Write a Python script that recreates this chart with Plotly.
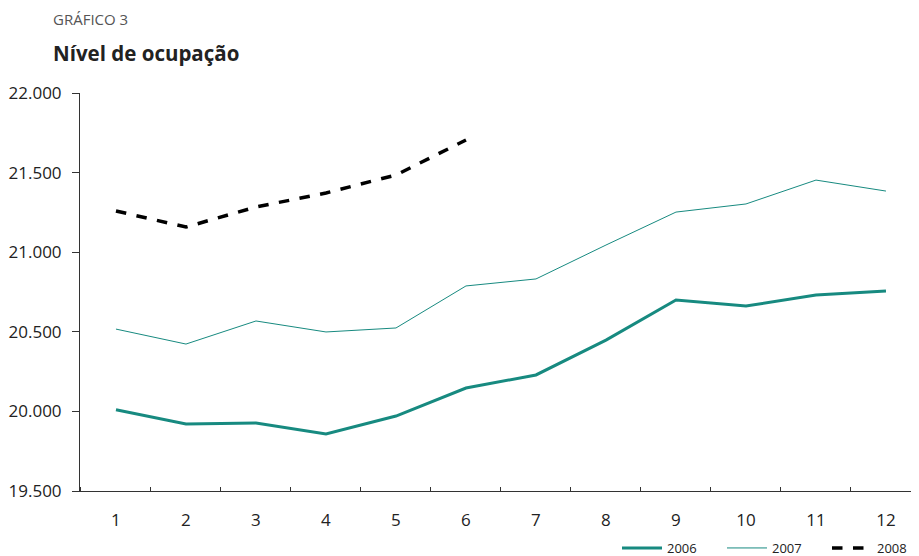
import plotly.graph_objects as go

months = [1, 2, 3, 4, 5, 6, 7, 8, 9, 10, 11, 12]
y2006 = [20010, 19921, 19927, 19858, 19971, 20147, 20229, 20448, 20700, 20662, 20731, 20756]
y2007 = [20517, 20423, 20568, 20499, 20524, 20788, 20832, 21045, 21252, 21303, 21453, 21384]
months2008 = [1, 2, 3, 4, 5, 6]
y2008 = [21259, 21158, 21284, 21372, 21485, 21705]
yticks = [19500, 20000, 20500, 21000, 21500, 22000]

teal = "#178a80"
font = "Open Sans"
# page body has an 8px default margin
W, H = 911, 556
L, R, T, B = 72, 3, 85, 73
PW, PH = W - L - R, H - T - B

fig = go.Figure()
fig.add_trace(go.Scatter(x=months, y=y2006, mode="lines", name="2006",
                         line=dict(color=teal, width=3)))
fig.add_trace(go.Scatter(x=months, y=y2007, mode="lines", name="2007",
                         line=dict(color=teal, width=1)))
fig.add_trace(go.Scatter(x=months2008, y=y2008, mode="lines", name="2008",
                         line=dict(color="black", width=3.5, dash="dash")))

fig.update_layout(
    width=W, height=H,
    margin=dict(l=L, r=R, t=T, b=B, autoexpand=False),
    paper_bgcolor="white", plot_bgcolor="white",
    separators=",.",
    font=dict(family=font, color="#222222"),
    showlegend=True,
    legend=dict(orientation="h", x=1 + 16 / PW, xanchor="right", y=-57 / PH, yanchor="middle",
                font=dict(size=13, color="#222222"), traceorder="normal",
                itemwidth=40, entrywidth=50, bgcolor="rgba(0,0,0,0)"),
    xaxis=dict(range=[0.486, 12.429], tickvals=months, ticktext=[str(m) for m in months],
               showgrid=False, zeroline=False, showline=True, linecolor="#333333",
               linewidth=1, ticks="", ticklabelstandoff=14,
               minor=dict(tick0=0.5, dtick=1, ticks="inside", ticklen=4,
                          tickcolor="#333333", showgrid=False),
               tickfont=dict(size=17, family=font, color="#222222")),
    yaxis=dict(range=[19500, 22000], tickvals=yticks, tickformat=",.0f",
               showgrid=False, zeroline=False, showline=True, linecolor="#333333",
               linewidth=1, ticks="outside", ticklen=7, tickcolor="#333333",
               ticklabelstandoff=7,
               tickfont=dict(size=17, family=font, color="#222222")),
)
fig.add_annotation(text="GRÁFICO 3", xref="paper", yref="paper",
                   x=-29 / PW, y=1 + (85 - 11) / PH, xanchor="left", yanchor="middle",
                   showarrow=False, font=dict(family=font, size=15, color="#555555"))
fig.add_annotation(text="<b>Nível de ocupação</b>", xref="paper", yref="paper",
                   x=-29 / PW, y=1 + (85 - 45) / PH, xanchor="left", yanchor="middle",
                   showarrow=False, font=dict(family=font, size=20.5, color="#222222"))

fig.write_html("out.html")
